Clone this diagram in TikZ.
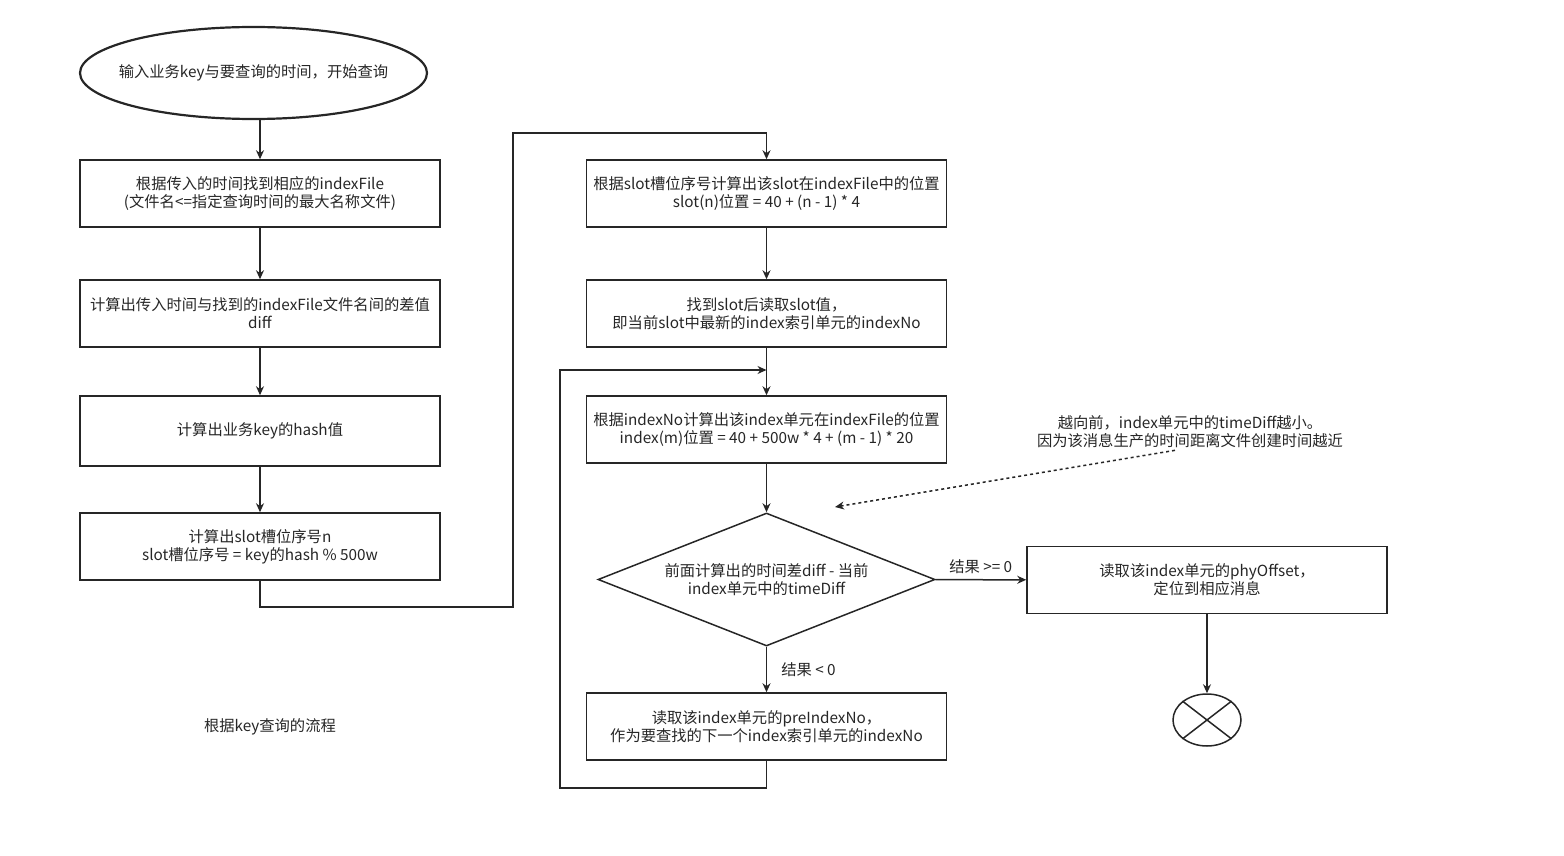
\documentclass[tikz,border=0pt]{standalone}
\usepackage{fontspec}
\setmainfont{Noto Sans CJK SC}
\usetikzlibrary{shapes.geometric,arrows.meta}
\begin{document}
\begin{tikzpicture}[x=1pt, y=-1pt, font=\fontsize{15.3}{18}\selectfont, every node/.style={align=center, inner sep=2pt, text=black!85}, box/.style={rectangle, draw=black!85, line width=1.5pt, minimum width=360pt, minimum height=67pt}, start/.style={ellipse, draw=black!85, line width=2.2pt, inner xsep=-16pt, minimum width=347pt, minimum height=92pt}, decision/.style={diamond, draw=black!85, line width=1.5pt, aspect=2.53, inner sep=0pt, minimum width=337pt, minimum height=133pt}, stop/.style={ellipse, draw=black!85, line width=1.5pt, minimum width=68pt, minimum height=52pt}, arrow/.style={-{Stealth[length=9pt, width=8pt]}, line width=1.5pt, draw=black!85}]
	\useasboundingbox (0,0) rectangle (1564,856);

		\node[start] (0) at (253.5, 73) {输入业务key与要查询的时间，开始查询};
		\node[box] (1) at (260, 193.5) {根据传入的时间找到相应的indexFile\\(文件名<=指定查询时间的最大名称文件)};
		\node[box] (2) at (260, 313.5) {计算出传入时间与找到的indexFile文件名间的差值\\diff};
		\node[box, minimum height=70pt] (3) at (260, 431) {计算出业务key的hash值};
		\node[box] (4) at (260, 546.5) {计算出slot槽位序号n\\slot槽位序号 = key的hash \% 500w};
		\node[box] (5) at (766.5, 193.5) {根据slot槽位序号计算出该slot在indexFile中的位置\\slot(n)位置 = 40 + (n - 1) * 4};
		\node[box] (6) at (766.5, 313.5) {找到slot后读取slot值，\\即当前slot中最新的index索引单元的indexNo};
		\node[box] (7) at (766.5, 429.5) {根据indexNo计算出该index单元在indexFile的位置\\index(m)位置 = 40 + 500w * 4 + (m - 1) * 20};
		\node[decision] (d) at (766.5, 579.5) {前面计算出的时间差diff - 当前\\index单元中的timeDiff};
		\node[box] (8) at (766.5, 726.5) {读取该index单元的preIndexNo，\\作为要查找的下一个index索引单元的indexNo};
		\node[box] (9) at (1207, 580) {读取该index单元的phyOffset，\\定位到相应消息};
		\node[stop] (end) at (1207, 720) {};
		\node (note) at (1190, 432) {越向前，index单元中的timeDiff越小。\\因为该消息生产的时间距离文件创建时间越近};
		\node (title) at (270, 727) {根据key查询的流程};
		\coordinate (m) at (766.5, 370);
		\coordinate (c) at (835, 507);

		\draw[arrow] (1.north |- 0.south) -- (1);
		\draw[arrow] (1) -- (2);
		\draw[arrow] (2) -- (3);
		\draw[arrow] (3) -- (4);
		\draw[arrow] (4.south) -- ++(0, 26) -| (513, 133) -| (5.north);
		\draw[arrow] (5) -- (6);
		\draw[arrow] (6) -- (7);
		\draw[arrow] (7) -- (d);
		\draw[arrow] (d) -- node[right=12pt] {结果 < 0} (8);
		\draw[arrow] (d) -- node[above=3pt, pos=0.5] {结果 >= 0} (9);
		\draw[arrow] (9) -- (end);
		\draw[arrow] (8.south) -- ++(0, 27) -| (560, 370) -- (m);
		\draw[arrow, dashed] ([xshift=-15pt]note.south) -- (c);
		\draw[line width=1.5pt, draw=black!85] (end.north west) -- (end.south east);
		\draw[line width=1.5pt, draw=black!85] (end.north east) -- (end.south west);
	\end{tikzpicture}
\end{document}
